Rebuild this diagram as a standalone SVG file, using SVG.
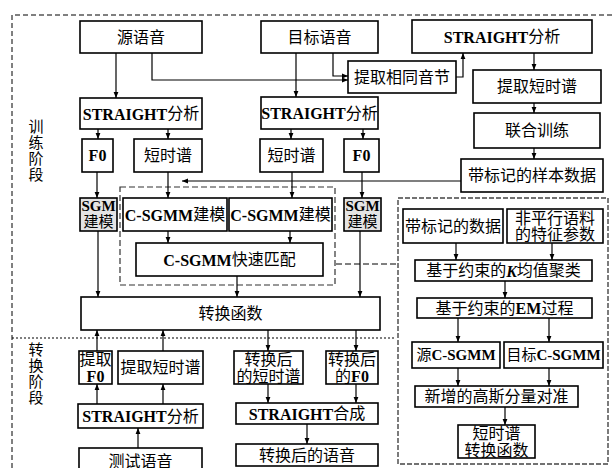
<svg xmlns="http://www.w3.org/2000/svg" width="612" height="468" viewBox="0 0 612 468">
<defs>
<style>
.b{fill:#fff;stroke:#000;stroke-width:1.6}
.g{fill:#e4e4e4;stroke:#000;stroke-width:1.6}
text{font-family:'Liberation Serif','Noto Sans CJK SC',serif;font-size:16px;fill:#000;text-anchor:middle;dominant-baseline:central}
.l{font-weight:bold}
.s{font-size:15px}
.c line,.c path{fill:none;stroke:#000;stroke-width:1.2;marker-end:url(#ah)}
.frame{fill:none;stroke:#000;stroke-width:1;stroke-dasharray:5,3}
</style>
<marker id="ah" viewBox="0 0 10 10" refX="10" refY="5" markerWidth="6" markerHeight="6" orient="auto" markerUnits="userSpaceOnUse"><path d="M0,1 L10,5 L0,9 z" fill="#000"/></marker>
</defs>
<rect width="612" height="468" fill="#fff"/>
<!-- frames -->
<path class="frame" d="M12,468 V15 H612"/>
<line x1="12" y1="338" x2="396" y2="338" stroke="#000" stroke-width="1.2" stroke-dasharray="2,2"/>
<rect x="120" y="187" width="215" height="98" fill="none" stroke="#333" stroke-width="1.2" stroke-dasharray="6,3"/>
<rect x="398" y="198" width="210" height="266" fill="none" stroke="#444" stroke-width="1.4" stroke-dasharray="5,2"/>
<line x1="336" y1="264" x2="397" y2="264" stroke="#000" stroke-width="1" stroke-dasharray="6,3"/>
<g id="lbl1"><text class="s" x="36" y="127">训</text><text class="s" x="36" y="143">练</text><text class="s" x="36" y="159">阶</text><text class="s" x="36" y="175">段</text></g>
<g id="lbl2"><text class="s" x="36" y="350">转</text><text class="s" x="36" y="366">换</text><text class="s" x="36" y="382">阶</text><text class="s" x="36" y="398">段</text></g>
<!-- nodes -->
<g id="n1"><rect class="b" x="80" y="21" width="122" height="32"/><text x="141" y="37">源语音</text></g>
<g id="n2"><rect class="b" x="261" y="21" width="117" height="32"/><text x="319.5" y="37">目标语音</text></g>
<g id="n3"><rect class="b" x="412" y="20" width="180" height="33"/><text x="502" y="36.5"><tspan class="l">STRAIGHT</tspan>分析</text></g>
<g id="n4"><rect class="b" x="348" y="61" width="108" height="32"/><text x="402" y="77">提取相同音节</text></g>
<g id="n5"><rect class="b" x="473" y="70" width="128" height="33"/><text x="537" y="86.5">提取短时谱</text></g>
<g id="n6"><rect class="b" x="474" y="113" width="126" height="35"/><text x="537" y="130.5">联合训练</text></g>
<g id="n7"><rect class="b" x="461" y="159" width="142" height="33"/><text x="532" y="175.5">带标记的样本数据</text></g>
<g id="n8"><rect class="b" x="80" y="98" width="122" height="31"/><text x="141" y="113.5"><tspan class="l">STRAIGHT</tspan>分析</text></g>
<g id="n9"><rect class="b" x="261" y="97" width="117" height="32"/><text x="319.5" y="113"><tspan class="l">STRAIGHT</tspan>分析</text></g>
<g id="n10"><rect class="b" x="82" y="139" width="31" height="33"/><text class="l" x="97.5" y="155.5">F0</text></g>
<g id="n11"><rect class="b" x="134" y="139" width="68" height="33"/><text x="168" y="155.5">短时谱</text></g>
<g id="n12"><rect class="b" x="260" y="139" width="63" height="33"/><text x="291.5" y="155.5">短时谱</text></g>
<g id="n13"><rect class="b" x="344" y="139" width="35" height="33"/><text class="l" x="361.5" y="155.5">F0</text></g>
<g id="n14"><rect class="g" x="80" y="198" width="37" height="33"/><text class="l s" x="98.5" y="206">SGM</text><text class="s" x="98.5" y="222">建模</text></g>
<g id="n15"><rect class="g" x="344" y="198" width="37" height="33"/><text class="l s" x="362.5" y="206">SGM</text><text class="s" x="362.5" y="222">建模</text></g>
<g id="n16"><rect class="b" x="123" y="198" width="104" height="33"/><text x="175" y="214.5"><tspan class="l">C-SGMM</tspan>建模</text></g>
<g id="n17"><rect class="b" x="229" y="198" width="103" height="33"/><text x="280.5" y="214.5"><tspan class="l">C-SGMM</tspan>建模</text></g>
<g id="n18"><rect class="b" x="136" y="243" width="187" height="33"/><text x="229.5" y="259.5"><tspan class="l">C-SGMM</tspan>快速匹配</text></g>
<g id="n19"><rect class="b" x="81" y="297" width="299" height="33"/><text x="230.5" y="313.5">转换函数</text></g>
<g id="n20"><rect class="b" x="403" y="209" width="100" height="34"/><text x="453" y="226">带标记的数据</text></g>
<g id="n21"><rect class="b" x="507" y="209" width="96" height="34"/><text x="555" y="218">非平行语料</text><text x="555" y="234">的特征参数</text></g>
<g id="n22"><rect class="b" x="415" y="260" width="177" height="21"/><text x="503.5" y="270.5">基于约束的<tspan class="l" font-style="italic">K</tspan>均值聚类</text></g>
<g id="n23"><rect class="b" x="417" y="298" width="175" height="20"/><text x="504.5" y="308">基于约束的<tspan class="l">EM</tspan>过程</text></g>
<g id="n24"><rect class="b" x="412" y="342" width="88" height="26"/><text class="s" x="456" y="355">源<tspan class="l">C-SGMM</tspan></text></g>
<g id="n25"><rect class="b" x="504" y="342" width="99" height="26"/><text class="s" x="553.5" y="355">目标<tspan class="l">C-SGMM</tspan></text></g>
<g id="n26"><rect class="b" x="415" y="386" width="163" height="21"/><text x="496.5" y="396.5">新增的高斯分量对准</text></g>
<g id="n27"><rect class="b" x="458" y="425" width="77" height="33"/><text x="496.5" y="433.5">短时谱</text><text x="496.5" y="450">转换函数</text></g>
<g id="n28"><rect class="b" x="79" y="351" width="33" height="33"/><text x="95.5" y="359.5">提取</text><text class="l" x="95.5" y="376">F0</text></g>
<g id="n29"><rect class="b" x="118" y="351" width="85" height="33"/><text x="160.5" y="367.5">提取短时谱</text></g>
<g id="n30"><rect class="b" x="234" y="351" width="69" height="33"/><text x="268.5" y="359.5">转换后</text><text x="268.5" y="376">的短时谱</text></g>
<g id="n31"><rect class="b" x="326" y="351" width="52" height="33"/><text x="352" y="359.5">转换后</text><text x="352" y="376">的<tspan class="l">F0</tspan></text></g>
<g id="n32"><rect class="b" x="78" y="404" width="125" height="24"/><text x="140.5" y="416"><tspan class="l">STRAIGHT</tspan>分析</text></g>
<g id="n33"><rect class="b" x="236" y="403" width="142" height="21"/><text x="307" y="413.5"><tspan class="l">STRAIGHT</tspan>合成</text></g>
<g id="n34"><rect class="b" x="79" y="448" width="123" height="26"/><text x="140.5" y="461">测试语音</text></g>
<g id="n35"><rect class="b" x="236" y="444" width="142" height="22"/><text x="307" y="455">转换后的语音</text></g>
<!-- connectors -->
<g id="connectors" class="c">
<line x1="116" y1="53" x2="116" y2="98"/>
<path d="M152,53 V80 H348"/>
<line x1="296" y1="53" x2="296" y2="97"/>
<path d="M333,53 V76 H348"/>
<path d="M456,77 H463 V53"/>
<line x1="534" y1="53" x2="534" y2="70"/>
<line x1="534" y1="103" x2="534" y2="113"/>
<line x1="534" y1="148" x2="534" y2="159"/>
<line x1="461" y1="181" x2="182" y2="181"/>
<line x1="98" y1="129" x2="98" y2="139"/>
<line x1="168" y1="129" x2="168" y2="139"/>
<line x1="291" y1="129" x2="291" y2="139"/>
<line x1="363" y1="129" x2="363" y2="139"/>
<line x1="97" y1="172" x2="97" y2="198"/>
<line x1="168" y1="172" x2="168" y2="198"/>
<line x1="292" y1="172" x2="292" y2="198"/>
<line x1="362" y1="172" x2="362" y2="198"/>
<line x1="168" y1="231" x2="168" y2="243"/>
<line x1="290" y1="231" x2="290" y2="243"/>
<line x1="237" y1="276" x2="237" y2="297"/>
<line x1="98" y1="231" x2="98" y2="297"/>
<line x1="360" y1="231" x2="360" y2="297"/>
<line x1="97" y1="351" x2="97" y2="330"/>
<line x1="163" y1="351" x2="163" y2="330"/>
<line x1="268" y1="330" x2="268" y2="351"/>
<line x1="356" y1="330" x2="356" y2="351"/>
<line x1="97" y1="404" x2="97" y2="384"/>
<line x1="163" y1="404" x2="163" y2="384"/>
<line x1="138" y1="448" x2="138" y2="428"/>
<line x1="268" y1="384" x2="268" y2="403"/>
<line x1="356" y1="384" x2="356" y2="403"/>
<line x1="307" y1="424" x2="307" y2="444"/>
<line x1="456" y1="243" x2="456" y2="260"/>
<line x1="552" y1="243" x2="552" y2="260"/>
<line x1="505" y1="281" x2="505" y2="298"/>
<line x1="458" y1="318" x2="458" y2="342"/>
<line x1="549" y1="318" x2="549" y2="342"/>
<line x1="458" y1="368" x2="458" y2="386"/>
<line x1="549" y1="368" x2="549" y2="386"/>
<line x1="505" y1="407" x2="505" y2="425"/>
</g>
</svg>
